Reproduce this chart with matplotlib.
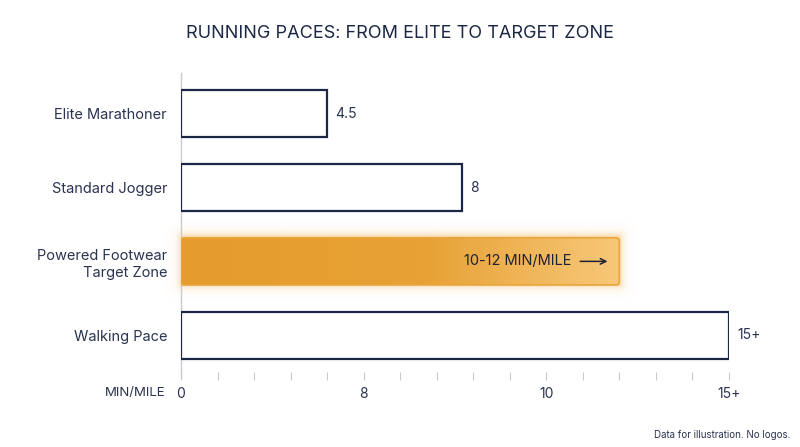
import numpy as np
import matplotlib.pyplot as plt
from matplotlib.patches import FancyBboxPatch
from matplotlib.colors import LinearSegmentedColormap

plt.rcParams['font.family'] = ['Inter', 'DejaVu Sans']

categories = ['Elite Marathoner', 'Standard Jogger', 'Powered Footwear\nTarget Zone', 'Walking Pace']
bar_lengths = [4.0, 7.7, 12.0, 15.0]
value_labels = ['4.5', '8', '10-12 MIN/MILE', '15+']
highlight = 2
tick_pos = [0, 5, 10, 15]
tick_labels = ['0', '8', '10', '15+']

navy = '#1B2745'
text_c = '#2A3350'
grey = '#C8CBD2'

fig = plt.figure(figsize=(8, 4.47), dpi=100)
ax = fig.add_axes([181 / 800, 1 - 372 / 447, 548 / 800, 295 / 447])
ax.set_xlim(0, 15)
ax.set_ylim(3.5, -0.5)

# pixels per data unit
px_x = 548 / 15
px_y = 295 / 4

bh = 0.64
y = np.arange(len(categories))
for i, (yy, w) in enumerate(zip(y, bar_lengths)):
    if i == highlight:
        continue
    ax.barh(yy, w, height=bh, color='white', edgecolor=navy, linewidth=1.6, zorder=3)
    ax.text(w + 0.22, yy, value_labels[i], va='center', ha='left', fontsize=10, color=text_c)

# highlighted target zone bar: soft glow + gradient fill
yy, w = y[highlight], bar_lengths[highlight]
gx = np.linspace(-0.5, w + 0.5, 400)
gy = np.linspace(yy - bh / 2 - 0.25, yy + bh / 2 + 0.25, 120)
GX, GY = np.meshgrid(gx, gy)
dx = np.maximum(np.maximum(0 - GX, GX - w), 0) * px_x
dy = np.maximum(np.abs(GY - yy) - bh / 2, 0) * px_y
d = np.hypot(dx, dy)
glow = np.zeros(GX.shape + (4,))
glow[..., :3] = np.array([243, 170, 60]) / 255
glow[..., 3] = np.where(d > 0, 0.45 * np.exp(-d / 4.0), 0)
ax.imshow(glow, extent=[gx[0], gx[-1], gy[-1], gy[0]], aspect='auto', zorder=2,
          interpolation='bilinear', clip_on=False)

cmap = LinearSegmentedColormap.from_list('tz', [(0, '#E59C2C'), (0.55, '#E7A134'), (1.0, '#F7C879')])
grad = np.linspace(0, 1, 256).reshape(1, -1)
im = ax.imshow(grad, cmap=cmap, aspect='auto', extent=[0, w, yy + bh / 2, yy - bh / 2], zorder=3)
box = FancyBboxPatch((0, yy - bh / 2), w, bh, boxstyle='round,pad=0,rounding_size=0.08',
                     mutation_aspect=px_x / px_y,
                     facecolor='none', edgecolor='#E9A63E', linewidth=1.2, zorder=4)
ax.add_patch(box)
im.set_clip_path(box)
ax.set_xlim(0, 15)
ax.set_ylim(3.5, -0.5)
ax.text(w - 1.32, yy, value_labels[highlight], va='center', ha='right', fontsize=10.5, color='#1F2230', zorder=5)
ax.annotate('', xy=(w - 0.25, yy), xytext=(w - 1.15, yy),
            arrowprops=dict(arrowstyle='->', color='#1F2230', lw=1.1), zorder=5)

ax.set_yticks(y)
ax.set_yticklabels(categories, fontsize=10.5, color=text_c, linespacing=1.25)
ax.tick_params(axis='y', length=0, pad=10)

ax.set_xticks(tick_pos)
ax.set_xticklabels(tick_labels, fontsize=10, color=text_c)
ax.set_xticks(np.arange(0, 16, 1), minor=True)
ax.tick_params(axis='x', which='both', direction='out', length=6, color=grey, width=0.8, pad=5)

for s in ['top', 'right', 'bottom']:
    ax.spines[s].set_visible(False)
ax.spines['left'].set_color(grey)
ax.spines['left'].set_linewidth(1.0)
ax.spines['left'].set_bounds(3.58, -0.55)

fig.text(166 / 800, 1 - 393 / 447, 'MIN/MILE', ha='right', va='center', fontsize=9.5, color=text_c)

fig.text(0.5, 1 - 34 / 447, 'RUNNING PACES: FROM ELITE TO TARGET ZONE', ha='center', va='center',
         fontsize=13, color=navy)
fig.text(790 / 800, 1 - 435 / 447, 'Data for illustration. No logos.', ha='right', va='center',
         fontsize=7, color=text_c)

fig.savefig('out.png', dpi=100)
